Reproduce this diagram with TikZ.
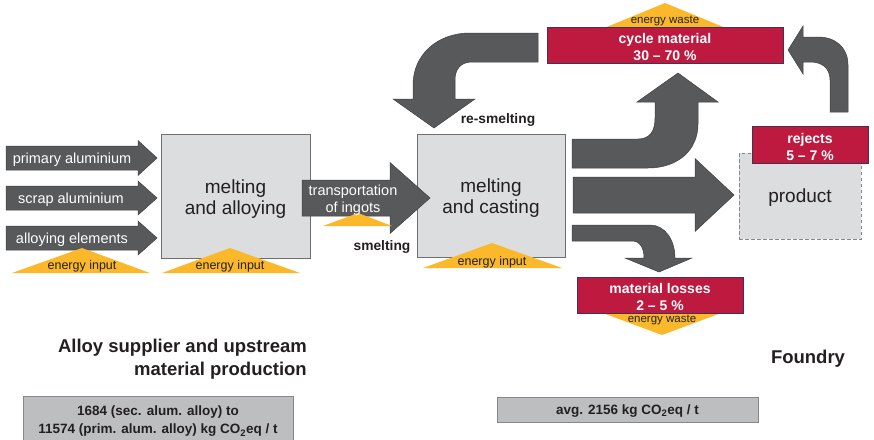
\documentclass[tikz,border=0pt]{standalone}
\usepackage{fontspec}
\setmainfont{Liberation Sans}
\definecolor{flowgray}{HTML}{58595B}
\definecolor{flowedge}{HTML}{3E3F41}
\definecolor{procfill}{HTML}{DCDDDF}
\definecolor{procedge}{HTML}{6D6E71}
\definecolor{lossred}{HTML}{BE1A40}
\definecolor{lossedge}{HTML}{4A3050}
\definecolor{heatyellow}{HTML}{FBB82B}
\definecolor{inkdark}{HTML}{231F20}
\definecolor{sumfill}{HTML}{BCBEC0}
\definecolor{sumedge}{HTML}{85878A}

% straight block arrow: x-start, head start, tip, centre y, body half height, head half height
\newcommand{\blockarrow}[6]{%
  \draw[flow] (#1,#4-#5) -- (#2,#4-#5) -- (#2,#4-#6) -- (#3,#4)
    -- (#2,#4+#6) -- (#2,#4+#5) -- (#1,#4+#5) -- cycle;}

\begin{document}
\begin{tikzpicture}[x=1pt,y=-1pt,
  flow/.style={fill=flowgray, draw=flowedge, line width=0.5pt},
  procbox/.style={rectangle, fill=procfill, draw=procedge, line width=0.9pt,
    inner sep=0pt},
  proctext/.style={text=inkdark, inner sep=0pt, align=center,
    font=\fontsize{19}{21}\selectfont},
  lossbox/.style={rectangle, fill=lossred, draw=lossedge, line width=0.6pt,
    inner sep=0pt},
  losstext/.style={text=white, inner sep=0pt, align=center,
    font=\bfseries\fontsize{14}{17}\selectfont},
  sumbox/.style={rectangle, fill=sumfill, draw=sumedge, line width=0.8pt,
    inner sep=0pt},
  sumtext/.style={text=inkdark, inner sep=0pt, align=center,
    font=\bfseries\fontsize{13.5}{18}\selectfont},
  heat/.style={fill=heatyellow},
  flowtext/.style={text=white, inner sep=0pt, align=center,
    font=\fontsize{14.5}{17}\selectfont},
  heattext/.style={text=inkdark, inner sep=0pt,
    font=\fontsize{12.5}{14}\selectfont},
  wastetext/.style={text=inkdark, inner sep=0pt,
    font=\fontsize{11.5}{13}\selectfont},
  tag/.style={text=inkdark, inner sep=0pt,
    font=\bfseries\fontsize{13.8}{16}\selectfont},
  stage/.style={text=inkdark, inner sep=0pt,
    font=\bfseries\fontsize{18.5}{22.5}\selectfont}]

\useasboundingbox (0,0) rectangle (874,439);

% ---- upstream inputs ----
\blockarrow{6}{138}{157}{158}{12}{17.5}
\blockarrow{6}{138}{157}{198}{12}{17}
\blockarrow{6}{138}{157}{238}{12}{17}
\node[flowtext] (primary) at (72,159.5) {primary aluminium};
\node[flowtext] (scrap)   at (71,199.5) {scrap aluminium};
\node[flowtext] (elements) at (72,239.5) {alloying elements};

% ---- process boxes ----
\node[procbox, minimum width=149, minimum height=124] (alloying) at (235.5,196) {};
\node[proctext] (alloyingtext) at (235.5,199) {melting\\and alloying};
\node[procbox, minimum width=148, minimum height=123] (casting) at (491,195.5) {};
\node[proctext] (castingtext) at (491,198.5) {melting\\and casting};

% ---- transport of ingots ----
\blockarrow{302}{390}{430}{198}{18}{35.5}
\fill[heat] (323,226) -- (392,226) -- (358,213) -- cycle;
\node[flowtext] (transport) at (353,200.5) {transportation\\of ingots};
\node[tag] (smelting) at (382,247) {smelting};

% ---- energy inputs ----
\fill[heat] (12,273) -- (150,273) -- (82,248) -- cycle;
\node[heattext] at (82,266) {energy input};
\fill[heat] (162,273) -- (300,273) -- (230,248) -- cycle;
\node[heattext] at (230,266) {energy input};
\fill[heat] (423,268) -- (562,268) -- (492,243) -- cycle;
\node[heattext] at (492,262) {energy input};

% ---- cycle material ----
\fill[heat] (597,31) -- (733,31) -- (665,3) -- cycle;
\node[lossbox, minimum width=236, minimum height=36] (cycle) at (665,45) {};
\node[losstext] (cycletext) at (665,47.5) {cycle material\\30 – 70 \%};
\node[wastetext] at (665,21) {energy waste};

% ---- material losses ----
\fill[heat] (592,309) -- (732,309) -- (662,335) -- cycle;
\node[lossbox, minimum width=166, minimum height=36] (losses) at (660,295) {};
\node[losstext] (lossestext) at (660,297) {material losses\\2 – 5 \%};
\node[wastetext] at (662,319.5) {energy waste};

% ---- product and rejects ----
\node[procbox, draw=sumedge, dashed, dash pattern=on 3.5pt off 2.5pt,
  line width=1pt, minimum width=122, minimum height=86] (product) at (800,196) {};
\node[proctext] (producttext) at (800,198) {product};
\node[lossbox, minimum width=116, minimum height=37] (rejects) at (810,144.5) {};
\node[losstext] (rejectstext) at (810,147) {rejects\\5 – 7 \%};

% ---- flows leaving the casting stage ----
\draw[flow] (572,139) -- (638,139) .. controls (650,139) and (655,131) .. (655,118)
  -- (655,102) -- (637,102) -- (678,73) -- (718,102) -- (698,102) -- (698,124)
  .. controls (698,150) and (678,168) .. (648,168) -- (572,168) -- cycle;
\blockarrow{573}{695}{734}{195}{18}{36.5}
\draw[flow] (572,225) -- (650,225) .. controls (665,225) and (675,240) .. (675,258)
  -- (692,258) -- (659,272) -- (625,258) -- (644,258)
  .. controls (644,248) and (640,241) .. (632,241) -- (572,241) -- cycle;

% ---- re-smelting loop ----
\draw[flow] (538,33) -- (470,33) .. controls (437,33) and (413,55) .. (413,85)
  -- (413,99) -- (393,99) -- (434,128) -- (475,99) -- (455,99) -- (455,80)
  .. controls (455,70) and (460,62) .. (472,62) -- (538,62) -- cycle;
\node[tag] (resmelting) at (498,120) {re-smelting};

% ---- rejects back to cycle material ----
\draw[flow] (830,112) -- (830,80) .. controls (830,68) and (822,62) .. (810,62)
  -- (803,62) -- (803,74) -- (788,50) -- (803,26) -- (803,37) -- (818,37)
  .. controls (836,37) and (848,48) .. (848,65) -- (848,112) -- cycle;

% ---- stage labels and footprints ----
\node[stage, align=right, anchor=east] (upstream) at (307,359) {Alloy supplier and upstream\\material production};
\node[stage] (foundry) at (808,359) {Foundry};
\node[sumbox, minimum width=270, minimum height=46, anchor=north west] (upfoot) at (23,396) {};
\node[sumtext] (upfoottext) at (158,421.5) {1684 (sec. alum. alloy) to\\11574 (prim. alum. alloy) kg CO\textsubscript{2}eq / t};
\node[sumbox, minimum width=261, minimum height=25] (foundfoot) at (627.5,409.5) {};
\node[sumtext] (foundfoottext) at (627.5,411) {avg. 2156 kg CO\textsubscript{2}eq / t};

\end{tikzpicture}
\end{document}
